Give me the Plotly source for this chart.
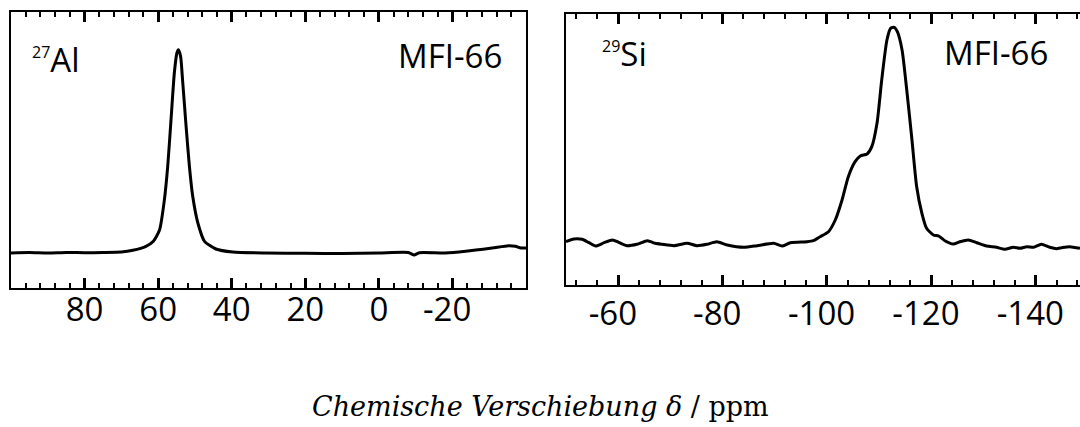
import plotly.graph_objects as go

# --- 27Al spectrum (ppm, intensity a.u.) ---
al_ppm = [100.0, 95.0, 90.0, 85.0, 80.0, 75.0, 70.0, 66.9, 63.3, 61.3, 59.6, 58.3, 57.4,
          56.5, 55.6, 54.9, 54.5, 53.9, 53.3, 52.4, 51.5, 50.6, 49.2, 47.4, 44.3, 39.7,
          30.7, 20.0, 10.0, 0.0, -8.0, -9.6, -11.0, -18.0, -23.6, -30.8, -35.3, -37.1,
          -38.6, -40.0]
al_int = [0.0, 0.5, 0.0, 0.5, 0.3, 0.5, 1.0, 2.7, 6.7, 11.7, 23.3, 53.3, 86.7,
          133.3, 180.0, 200.0, 203.3, 196.7, 170.0, 126.7, 86.7, 56.7, 30.0, 11.7, 4.0, 1.0,
          0.0, -0.3, -0.5, 0.0, 0.5, -2.0, 0.3, 0.0, 1.7, 5.0, 7.3, 6.7,
          5.0, 5.0]

# --- 29Si spectrum (ppm, intensity a.u.) ---
si_ppm = [-50.0, -51.5, -53.1, -54.4, -55.7, -57.3, -58.9, -60.1, -61.7, -63.6, -65.6, -67.1,
          -68.4, -70.7, -73.2, -75.1, -77.0, -78.9, -80.9, -84.1, -86.6, -89.8, -91.4,
          -93.0, -96.2, -97.4, -98.7, -100.3, -101.6, -102.9, -104.1, -105.4, -106.4,
          -107.7, -108.6, -109.6, -110.5, -111.5, -112.2, -112.9, -113.5, -114.4, -115.3,
          -116.3, -117.2, -118.2, -119.1, -120.4, -121.4, -122.6, -124.2, -125.5, -127.1,
          -128.7, -130.6, -132.5, -134.1, -135.7, -137.0, -138.3, -139.6, -141.1, -142.7,
          -144.0, -145.0, -146.5, -148.5]
si_int = [3.3, 6.0, 5.7, 2.3, -1.0, 2.3, 5.0, 2.7, -0.7, 0.7, 4.3, 1.7,
          0.7, -0.7, 1.7, -0.7, 0.7, 3.3, 0.0, -2.3, -0.7, 1.7, -1.0,
          2.3, 3.3, 4.3, 8.3, 13.3, 25.0, 45.0, 68.3, 83.3, 89.0,
          91.0, 98.3, 121.7, 165.0, 205.0, 216.7, 217.7, 213.3, 195.0, 155.0,
          105.0, 58.3, 31.7, 16.7, 10.0, 9.0, 4.3, 1.0, 3.3, 5.0,
          2.3, -1.0, -2.3, -4.3, -2.3, -3.3, -1.7, -2.3, 0.7, -2.3,
          -3.7, -2.7, -1.7, -3.3]

al_tickvals = [80, 60, 40, 20, 0, -20]
al_ticktext = ["80", "60", "40", "20", "0", "-20"]
si_tickvals = [-60, -80, -100, -120, -140]
si_ticktext = ["-60", "-80", "-100", "-120", "-140"]

W, H = 1080, 427
TICKFONT = dict(family="Open Sans", size=33, color="black")
LABELFONT = dict(family="Open Sans", size=33, color="black")
HIDDEN = "<span style='color:rgba(0,0,0,0)'>-</span>"


def centred(labels):
    # digits centred on the tick, minus sign hanging to the left
    return [t + HIDDEN if t.startswith("-") else t for t in labels]


fig = go.Figure()
fig.add_trace(go.Scatter(x=al_ppm, y=al_int, mode="lines", xaxis="x", yaxis="y",
                         line=dict(color="black", width=3, shape="spline", smoothing=0.6),
                         showlegend=False, hoverinfo="skip"))
fig.add_trace(go.Scatter(x=si_ppm, y=si_int, mode="lines", xaxis="x2", yaxis="y2",
                         line=dict(color="black", width=3, shape="spline", smoothing=0.6),
                         showlegend=False, hoverinfo="skip"))


def py(p):
    return 1 - p / H


def xaxis_common(rng, dom, tv, tt, anchor, standoff):
    return dict(
        domain=dom, range=rng, anchor=anchor,
        showline=True, linecolor="black", linewidth=2, mirror="ticks",
        ticks="inside", ticklen=10, tickwidth=2.5, tickcolor="black",
        tickvals=tv, ticktext=tt, tickfont=TICKFONT, ticklabelstandoff=standoff,
        ticklabeloverflow="allow",
        minor=dict(dtick=4, tick0=0, ticks="inside", ticklen=5, tickwidth=1.5, tickcolor="black"),
        showgrid=False, zeroline=False, fixedrange=True,
    )


fig.update_layout(
    width=W, height=H,
    margin=dict(l=0, r=0, t=0, b=0),
    paper_bgcolor="white", plot_bgcolor="white",
    xaxis=xaxis_common([100, -40], [11 / W, 526 / W], al_tickvals, centred(al_ticktext), "y", -9),
    yaxis=dict(domain=[py(288), py(12)], range=[-35, 241], anchor="x",
               showline=True, linecolor="black", linewidth=2, mirror=True,
               showticklabels=False, ticks="", showgrid=False, zeroline=False),
    xaxis2=xaxis_common([-50, -148.5], [566 / W, 1.0], si_tickvals, centred(si_ticktext), "y2", -2),
    yaxis2=dict(domain=[py(285), py(14)], range=[-40, 231], anchor="x2",
                showline=True, linecolor="black", linewidth=2, mirror=False,
                showticklabels=False, ticks="", showgrid=False, zeroline=False),
)

ann = [
    dict(text="<sup><span style='font-size:16px'>27</span></sup>Al", x=30 / W, y=py(59.5),
         xanchor="left", yanchor="middle", font=LABELFONT),
    dict(text="MFI-66", x=504 / W, y=py(55), xanchor="right", yanchor="middle", font=LABELFONT),
    dict(text="<sup><span style='font-size:16px'>29</span></sup>Si", x=600 / W, y=py(53),
         xanchor="left", yanchor="middle", font=LABELFONT),
    dict(text="MFI-66", x=1050 / W, y=py(52), xanchor="right", yanchor="middle", font=LABELFONT),
    dict(text="<i>Chemische Verschiebung δ</i> / ppm", x=0.5, y=py(406),
         xanchor="center", yanchor="middle",
         font=dict(family="DejaVu Serif", size=27, color="black")),
]
for a in ann:
    a.update(xref="paper", yref="paper", showarrow=False)
fig.update_layout(annotations=ann)

fig.write_html("out.html")
